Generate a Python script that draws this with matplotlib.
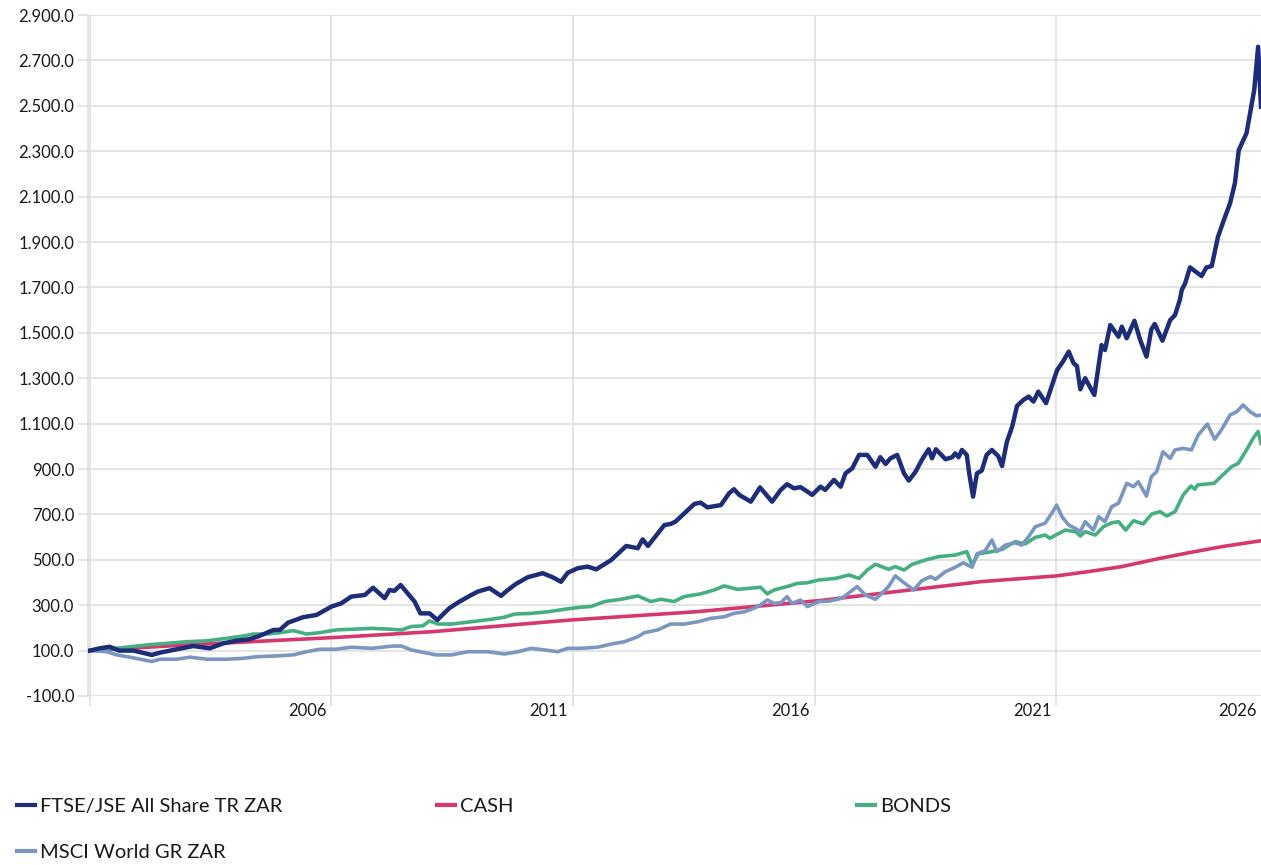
import matplotlib
matplotlib.use("Agg")
import matplotlib.pyplot as plt
from matplotlib.lines import Line2D
from matplotlib.ticker import FuncFormatter

plt.rcParams['font.family'] = ['Lato', 'DejaVu Sans']

# time in decimal years, values indexed to 100
ftse_t = [2001.0, 2001.2, 2001.41, 2001.6, 2001.9, 2002.28, 2002.45, 2002.8, 2003.14, 2003.48,
          2003.76, 2004.04, 2004.3, 2004.5, 2004.8, 2004.93, 2005.1, 2005.41, 2005.69, 2006.0,
          2006.2, 2006.41, 2006.69, 2006.86, 2007.1, 2007.2, 2007.3, 2007.43, 2007.62, 2007.72,
          2007.84, 2008.03, 2008.19, 2008.44, 2008.65, 2008.86, 2009.03, 2009.27, 2009.51, 2009.65,
          2009.82, 2010.06, 2010.37, 2010.58, 2010.75, 2010.89, 2011.1, 2011.3, 2011.48, 2011.79,
          2012.1, 2012.34, 2012.44, 2012.55, 2012.89, 2013.02, 2013.12, 2013.23, 2013.51, 2013.64,
          2013.78, 2014.06, 2014.23, 2014.33, 2014.44, 2014.68, 2014.87, 2015.12, 2015.3, 2015.43,
          2015.57, 2015.71, 2015.95, 2016.12, 2016.22, 2016.4, 2016.54, 2016.64, 2016.78, 2016.92,
          2017.09, 2017.26, 2017.36, 2017.47, 2017.57, 2017.71, 2017.85, 2017.95, 2018.09, 2018.22,
          2018.36, 2018.43, 2018.51, 2018.71, 2018.85, 2018.91, 2018.98, 2019.05, 2019.15, 2019.2,
          2019.28, 2019.36, 2019.46, 2019.56, 2019.67, 2019.8, 2019.88, 2019.98, 2020.09, 2020.19,
          2020.32, 2020.43, 2020.53, 2020.63, 2020.79, 2021.02, 2021.14, 2021.26, 2021.36, 2021.43,
          2021.5, 2021.6, 2021.79, 2021.94, 2022.01, 2022.12, 2022.29, 2022.36, 2022.46, 2022.62,
          2022.74, 2022.87, 2022.97, 2023.04, 2023.2, 2023.36, 2023.46, 2023.56, 2023.6, 2023.67,
          2023.77, 2024.01, 2024.11, 2024.22, 2024.35, 2024.46, 2024.6, 2024.7, 2024.78, 2024.94,
          2025.1, 2025.18, 2025.24]
ftse_v = [100, 110, 117, 100, 100, 81, 91, 106, 120, 110,
          132, 144, 150, 164, 191, 191, 223, 247, 257, 294,
          308, 338, 345, 377, 331, 367, 363, 389, 341, 316,
          264, 264, 235, 287, 316, 341, 360, 375, 341, 367,
          394, 423, 441, 423, 403, 443, 463, 470, 458, 499,
          561, 551, 590, 561, 653, 658, 668, 690, 746, 752,
          731, 741, 793, 811, 786, 756, 819, 756, 808, 833,
          815, 820, 786, 822, 808, 852, 822, 881, 903, 962,
          962, 910, 952, 922, 947, 962, 881, 849, 888, 940,
          987, 947, 987, 943, 952, 969, 952, 984, 962, 881,
          778, 881, 893, 962, 984, 957, 913, 1020, 1087, 1178,
          1204, 1219, 1197, 1241, 1190, 1336, 1373, 1417, 1366, 1354,
          1251, 1300, 1226, 1446, 1424, 1534, 1483, 1527, 1476, 1553,
          1468, 1395, 1515, 1539, 1465, 1556, 1578, 1645, 1689, 1718,
          1788, 1750, 1788, 1794, 1923, 1990, 2071, 2159, 2305, 2379,
          2570, 2760, 2496]

cash_t = [2001.0, 2003.0, 2006.09, 2008.07, 2010.96, 2013.54, 2016.09, 2018.09, 2019.46, 2021.0,
          2021.67, 2022.36, 2023.05, 2023.74, 2024.43, 2025.24]
cash_v = [100, 125, 158, 183, 235, 271, 320, 370, 404, 429,
          448, 470, 502, 531, 558, 584]

bonds_t = [2001.0, 2001.35, 2001.76, 2002.18, 2002.59, 2003.0, 2003.42, 2003.83, 2004.17, 2004.38,
           2004.66, 2004.93, 2005.21, 2005.48, 2005.76, 2006.09, 2006.41, 2006.83, 2007.24, 2007.45,
           2007.65, 2007.89, 2008.03, 2008.2, 2008.48, 2008.89, 2009.31, 2009.58, 2009.79, 2010.13,
           2010.48, 2010.82, 2011.15, 2011.37, 2011.65, 2011.99, 2012.34, 2012.61, 2012.82, 2013.09,
           2013.3, 2013.64, 2013.92, 2014.13, 2014.4, 2014.68, 2014.88, 2015.02, 2015.16, 2015.43,
           2015.64, 2015.85, 2016.09, 2016.43, 2016.71, 2016.92, 2017.09, 2017.26, 2017.53, 2017.67,
           2017.85, 2018.02, 2018.29, 2018.57, 2018.91, 2019.15, 2019.26, 2019.39, 2019.67, 2019.88,
           2020.15, 2020.36, 2020.57, 2020.77, 2020.87, 2021.08, 2021.19, 2021.4, 2021.5, 2021.6,
           2021.81, 2021.98, 2022.15, 2022.29, 2022.44, 2022.6, 2022.8, 2022.98, 2023.15, 2023.29,
           2023.46, 2023.63, 2023.79, 2023.87, 2023.93, 2024.27, 2024.41, 2024.63, 2024.77, 2024.94,
           2025.1, 2025.18, 2025.24]
bonds_v = [100, 106, 115, 125, 132, 139, 143, 154, 164, 173,
           173, 179, 188, 173, 179, 191, 194, 198, 194, 191,
           206, 209, 231, 217, 217, 227, 238, 247, 261, 264,
           271, 282, 291, 294, 316, 326, 341, 316, 326, 316,
           338, 350, 367, 385, 370, 375, 379, 350, 367, 382,
           396, 399, 411, 418, 433, 418, 455, 480, 458, 470,
           455, 480, 499, 514, 521, 536, 477, 526, 536, 546,
           580, 570, 599, 609, 595, 619, 631, 624, 605, 624,
           609, 646, 663, 668, 631, 672, 658, 702, 712, 693,
           712, 786, 825, 811, 830, 837, 866, 910, 925, 984,
           1043, 1065, 1013]

msci_t = [2001.0, 2001.35, 2001.56, 2001.83, 2002.04, 2002.28, 2002.45, 2002.8, 2003.07, 2003.42,
          2003.83, 2004.17, 2004.45, 2004.8, 2005.21, 2005.48, 2005.76, 2006.09, 2006.41, 2006.83,
          2007.27, 2007.45, 2007.65, 2007.93, 2008.17, 2008.48, 2008.82, 2009.24, 2009.58, 2009.86,
          2010.13, 2010.41, 2010.68, 2010.89, 2011.15, 2011.51, 2011.79, 2012.06, 2012.34, 2012.48,
          2012.75, 2013.02, 2013.3, 2013.58, 2013.85, 2014.13, 2014.33, 2014.54, 2014.75, 2014.88,
          2015.02, 2015.16, 2015.3, 2015.43, 2015.53, 2015.71, 2015.85, 2016.09, 2016.3, 2016.57,
          2016.88, 2017.05, 2017.26, 2017.43, 2017.53, 2017.67, 2017.85, 2018.05, 2018.22, 2018.4,
          2018.5, 2018.71, 2018.91, 2019.08, 2019.26, 2019.36, 2019.53, 2019.67, 2019.77, 2019.95,
          2020.15, 2020.29, 2020.43, 2020.57, 2020.77, 2020.91, 2021.01, 2021.12, 2021.26, 2021.43,
          2021.5, 2021.6, 2021.77, 2021.88, 2022.01, 2022.15, 2022.29, 2022.46, 2022.6, 2022.7,
          2022.87, 2022.97, 2023.08, 2023.21, 2023.36, 2023.46, 2023.63, 2023.8, 2023.94, 2024.13,
          2024.28, 2024.42, 2024.6, 2024.74, 2024.87, 2025.01, 2025.15, 2025.24]
msci_v = [100, 95, 81, 71, 62, 52, 62, 62, 71, 62,
          62, 66, 73, 76, 81, 95, 106, 106, 115, 110,
          120, 120, 103, 91, 81, 81, 95, 95, 85, 95,
          110, 103, 95, 110, 110, 115, 129, 139, 161, 179,
          191, 217, 217, 227, 242, 249, 264, 271, 287, 301,
          323, 308, 311, 338, 308, 323, 294, 316, 318, 331,
          382, 345, 326, 360, 382, 429, 399, 367, 408, 426,
          414, 448, 467, 487, 467, 526, 540, 587, 536, 565,
          575, 565, 602, 646, 661, 705, 741, 690, 653, 634,
          624, 668, 631, 690, 668, 734, 749, 837, 822, 844,
          781, 866, 888, 976, 947, 984, 991, 984, 1050, 1098,
          1031, 1072, 1138, 1153, 1182, 1153, 1134, 1138]

grid_years = [2001, 2006, 2011, 2016, 2021]
label_pos = [2005.5, 2010.5, 2015.5, 2020.5, 2024.76]
label_txt = ['2006', '2011', '2016', '2021', '2026']

C_FTSE = '#1e2d78'
C_CASH = '#d7376e'
C_BONDS = '#46af82'
C_MSCI = '#7a96c1'
GRID = '#dcdcdc'
TXT = '#1a1a1a'

fig = plt.figure(figsize=(12.61, 8.65), dpi=100)
ax = fig.add_axes([88 / 1261, 1 - 696 / 865, 1 - 88 / 1261, (696 - 15) / 865])

ax.plot(cash_t, cash_v, color=C_CASH, lw=2.6, zorder=3)
ax.plot(bonds_t, bonds_v, color=C_BONDS, lw=2.6, zorder=3)
ax.plot(msci_t, msci_v, color=C_MSCI, lw=2.6, zorder=3)
ax.plot(ftse_t, ftse_v, color=C_FTSE, lw=3.2, zorder=4)

ax.set_xlim(2000.96, 2025.24)
ax.set_ylim(-100, 2900)
ax.set_yticks(range(-100, 3000, 200))
ax.yaxis.set_major_formatter(FuncFormatter(lambda v, p: f"{v:,.1f}".replace(",", ".")))

ax.set_xticks(grid_years)
ax.set_xticklabels([])
ax.set_xticks(label_pos, minor=True)
ax.set_xticklabels(label_txt, minor=True)
ax.tick_params(axis='x', which='minor', length=0, pad=5, labelsize=12, labelcolor=TXT)
ax.tick_params(axis='x', which='major', length=7, color=GRID, width=1.1)
ax.tick_params(axis='y', length=7, color=GRID, width=1.1, pad=3, labelsize=12, labelcolor=TXT)

ax.grid(True, which='major', color=GRID, lw=1.1)
ax.set_axisbelow(True)
for s in ['top', 'right', 'bottom']:
    ax.spines[s].set_visible(False)
ax.spines['left'].set_color(GRID)
ax.spines['left'].set_linewidth(1.1)

# legend laid out like the source: three slots on the first row, one on the second
entries = [('FTSE/JSE All Share TR ZAR', C_FTSE, 17, 806),
           ('CASH', C_CASH, 437, 806),
           ('BONDS', C_BONDS, 857, 806),
           ('MSCI World GR ZAR', C_MSCI, 17, 852)]
for name, col, px, py in entries:
    h = Line2D([], [], color=col, lw=3)
    fig.legend(handles=[h], labels=[name], loc='center left',
               bbox_to_anchor=(px / 1261, 1 - py / 865), frameon=False,
               borderpad=0, borderaxespad=0, handlelength=0.9, handletextpad=0.25,
               prop={'size': 14.5}, labelcolor=TXT)

fig.savefig('out.png', dpi=100)
